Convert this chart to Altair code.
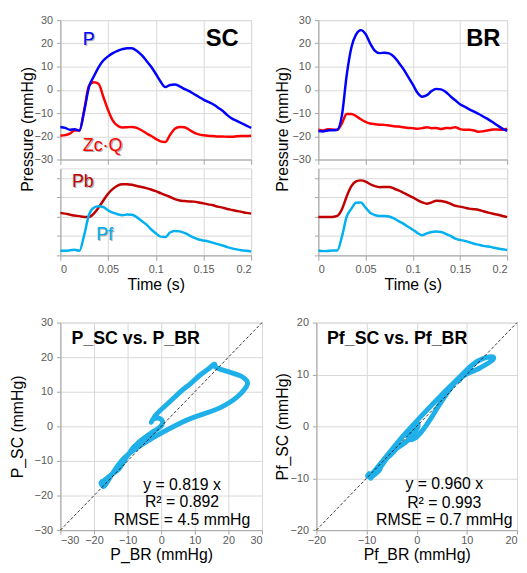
import altair as alt
import pandas as pd

FONT = "Liberation Sans"

# time base (s)
T = [round(0.005 * i, 3) for i in range(41)]

# Upper panels (mmHg)
SC_P = [-16.0, -16.4, -17.2, -17.0, -17.5, -9.0, 1.2, 5.7, 9.7, 12.6, 14.4, 15.8, 16.8, 17.5, 17.9,
        17.9, 16.8, 15.0, 12.6, 10.0, 6.9, 3.6, 1.2, 2.1, 2.3, 1.5, 0.4, -0.6, -1.8, -3.0, -4.2,
        -5.2, -6.2, -7.6, -9.0, -10.9, -12.4, -13.4, -14.4, -15.4, -16.4]
SC_ZQ = [-19.8, -19.5, -18.9, -17.5, -17.5, -8.7, 1.8, 3.3, 2.6, -3.0, -8.7, -13.3, -15.5, -16.2,
         -16.1, -16.0, -16.4, -17.4, -18.7, -19.8, -21.1, -22.2, -22.5, -19.4, -16.8, -16.0, -16.1,
         -17.2, -18.4, -19.2, -19.6, -19.8, -19.9, -20.1, -20.1, -20.2, -20.2, -20.0, -19.9, -19.9, -19.8]
BR_P = [-17.7, -17.9, -17.5, -17.4, -17.2, -10.9, 6.2, 18.2, 23.9, 25.7, 24.0, 19.9, 16.8, 15.8, 16.0,
        15.7, 14.3, 11.8, 9.0, 5.7, 2.3, -1.3, -3.0, -2.3, -0.5, 0.4, 0.2, -0.9, -2.8, -4.5, -6.2,
        -7.3, -8.4, -9.4, -10.4, -11.6, -12.7, -14.0, -15.4, -16.7, -17.7]
BR_ZQ = [-17.2, -17.5, -17.0, -17.1, -17.3, -14.4, -10.4, -10.4, -11.3, -12.7, -13.8, -14.5, -14.8,
         -15.0, -15.1, -15.4, -15.7, -15.8, -16.1, -16.4, -16.5, -16.8, -16.5, -16.1, -16.5, -16.4,
         -16.9, -16.4, -16.5, -16.1, -16.9, -17.2, -17.2, -17.5, -18.1, -17.8, -17.4, -17.1, -17.1, -17.2, -16.7]

# Lower panels (mmHg)
SC_PB = [10.0, 9.6, 9.1, 8.6, 8.3, 7.9, 7.9, 9.6, 12.7, 16.4, 19.9, 22.4, 24.1, 24.8, 24.8, 24.5, 23.9,
         23.4, 22.8, 22.1, 21.2, 20.2, 19.2, 18.2, 17.1, 16.4, 16.1, 15.9, 15.8, 15.4, 14.9, 14.4, 13.9,
         13.2, 12.7, 12.0, 11.5, 11.0, 10.5, 10.0, 9.6]
SC_PF = [-9.6, -9.6, -9.4, -9.1, -9.6, -1.4, 9.0, 12.6, 13.4, 13.0, 11.3, 10.1, 9.3, 8.8, 9.1, 9.0, 7.8,
         5.9, 4.0, 1.5, -0.6, -2.3, -2.5, -0.2, 0.6, 0.4, -0.4, -1.6, -2.8, -3.8, -4.3, -4.8, -5.5, -6.2,
         -6.9, -7.7, -8.4, -8.9, -9.3, -9.6, -10.0]
BR_PB = [7.8, 7.8, 7.8, 7.9, 8.4, 11.9, 18.5, 23.8, 26.3, 26.8, 26.2, 24.8, 23.8, 23.3, 23.4, 23.4, 22.6,
         21.6, 20.4, 19.2, 18.0, 16.6, 15.4, 14.7, 15.4, 16.3, 16.1, 15.6, 14.7, 13.7, 13.2, 12.7, 12.2,
         11.9, 11.5, 10.8, 10.1, 9.5, 9.0, 8.4, 7.8]
BR_PF = [-9.5, -9.8, -9.7, -9.5, -9.5, -2.3, 8.0, 12.2, 15.2, 15.3, 12.7, 10.0, 8.8, 8.4, 8.4, 8.1, 7.1,
         5.7, 4.4, 2.8, 1.3, -0.4, -1.6, -0.6, 0.1, 0.3, 0.1, -0.9, -1.9, -3.3, -4.0, -4.5, -5.2, -6.0,
         -6.5, -7.1, -7.4, -7.9, -8.4, -8.8, -9.2]

TIME_TICKS = [0, 0.05, 0.1, 0.15, 0.2]
P_TICKS = [-30, -20, -10, 0, 10, 20, 30]
LOW_DOMAIN = [-12, 33]
LOW_TICKS = [-12, -2, 8, 18, 28]
PF_TICKS = [-20, -10, 0, 10, 20]

BLUE = "#0000ff"
RED = "#ff0000"
DARKRED = "#c00000"
LIGHTBLUE = "#00b0f0"
SCAT = "#1fb0ea"
GRID = "#d9d9d9"
AXC = "#a6a6a6"
LAB = "#595959"


def ax(**kw):
    base = dict(labelFont=FONT, labelFontSize=11, labelColor=LAB, titleFont=FONT, titleFontSize=16,
                titleColor="black", titleFontWeight="normal", grid=True, gridColor=GRID, gridWidth=1,
                domainColor=AXC, tickColor=AXC, tickSize=4, labelPadding=4, labelOverlap=False)
    base.update(kw)
    return alt.Axis(**base)


def series_line(values, color, xenc, yenc):
    df = pd.DataFrame({"t": T, "v": values})
    return alt.Chart(df).mark_line(strokeWidth=2.5, color=color, interpolate="monotone").encode(x=xenc, y=yenc)


def labels_layer(items, xenc, yenc):
    layers = []
    for (tx, vx, txt, col, size, weight, shadow) in items:
        d = pd.DataFrame({"t": [tx], "v": [vx], "txt": [txt]})
        if shadow:
            layers.append(alt.Chart(d).mark_text(font=FONT, fontSize=size, fontWeight=weight, color="#9a9a9a",
                                                 dx=1.2, dy=1.2, opacity=0.8).encode(x=xenc, y=yenc, text="txt:N"))
        layers.append(alt.Chart(d).mark_text(font=FONT, fontSize=size, fontWeight=weight, color=col).encode(
            x=xenc, y=yenc, text="txt:N"))
    return layers


def top_block(p, zq, pb, pf, tag, with_names, width, title_pad):
    xs = alt.Scale(domain=[0, 0.2], nice=False)
    ys_up = alt.Scale(domain=[-30, 30], nice=False)
    ys_lo = alt.Scale(domain=LOW_DOMAIN, nice=False)

    xu = alt.X("t:Q", scale=xs, axis=ax(values=TIME_TICKS, labels=False, title=None, tickSize=5))
    yu = alt.Y("v:Q", scale=ys_up, axis=ax(values=P_TICKS, title="Pressure (mmHg)", titleY=110,
                                            titlePadding=title_pad))
    up_items = [(0.1696 if tag == "SC" else 0.1748, 21.8, tag, "black", 24, "bold", False)]
    if with_names:
        up_items += [(0.0297, 21.4, "P", BLUE, 18, "normal", True),
                     (0.0442, -24.2, "Zc·Q", RED, 18, "normal", True)]
    upper = alt.layer(series_line(zq, RED, xu, yu), series_line(p, BLUE, xu, yu),
                      *labels_layer(up_items, xu, yu)).properties(width=width, height=141)

    xl = alt.X("t:Q", scale=xs, axis=ax(values=TIME_TICKS, title="Time (s)", format="~g", tickSize=5,
                                        labelPadding=3, titlePadding=3))
    yl = alt.Y("v:Q", scale=ys_lo, axis=ax(values=LOW_TICKS, labels=False, title=None))
    lo_items = []
    if with_names:
        lo_items = [(0.0235, 25.8, "Pb", DARKRED, 18, "normal", True),
                    (0.0463, -1.3, "Pf", LIGHTBLUE, 18, "normal", True)]
    lower = alt.layer(series_line(pb, DARKRED, xl, yl), series_line(pf, LIGHTBLUE, xl, yl),
                      *labels_layer(lo_items, xl, yl)).properties(width=width, height=88)
    return alt.vconcat(upper, lower, spacing=9, bounds="flush")


def scatter(xv, yv, dom, ticks, xt, yt, title, stats, pos, width, title_pad, last_right=False):
    xs = alt.Scale(domain=dom, nice=False)
    ys = alt.Scale(domain=dom, nice=False)
    xkw = dict(values=ticks, title=xt, labelPadding=1, titlePadding=1)
    if last_right:
        xkw["labelAlign"] = {"condition": {"test": "datum.value == %d" % dom[1], "value": "right"},
                             "value": "center"}
    xe = alt.X("x:Q", scale=xs, axis=ax(**xkw))
    ye = alt.Y("y:Q", scale=ys, axis=ax(values=ticks, title=yt, titlePadding=title_pad))
    df = pd.DataFrame({"x": xv, "y": yv, "t": T})
    loop = alt.Chart(df).mark_line(color=SCAT, strokeWidth=5, strokeCap="round", strokeJoin="round",
                                   interpolate="catmull-rom").encode(x=xe, y=ye, order="t:Q")
    diag = alt.Chart(pd.DataFrame({"x": dom, "y": dom})).mark_line(
        color="black", strokeWidth=0.8, strokeDash=[3, 2]).encode(x=xe, y=ye)
    (tx, ty), (sx, sy) = pos
    items = [(tx, ty, title, "black", 18, "bold")]
    for s, yy in zip(stats, sy):
        items.append((sx, yy, s, "black", 16, "normal"))
    txt = []
    for (a, b, s, c, size, w) in items:
        d = pd.DataFrame({"x": [a], "y": [b], "s": [s]})
        txt.append(alt.Chart(d).mark_text(font=FONT, fontSize=size, fontWeight=w, color=c).encode(
            x=xe, y=ye, text="s:N"))
    return alt.layer(loop, diag, *txt).properties(width=width, height=210)


top_row = alt.hconcat(top_block(SC_P, SC_ZQ, SC_PB, SC_PF, "SC", True, 193, -1),
                      top_block(BR_P, BR_ZQ, BR_PB, BR_PF, "BR", False, 191, 2), spacing=16)

sc1 = scatter(BR_P, SC_P, [-30, 30], P_TICKS, "P_BR (mmHg)", "P_SC (mmHg)", "P_SC vs. P_BR",
              ["y = 0.819 x", "R² = 0.892", "RMSE = 4.5 mmHg"],
              ((-7.6, 25.1), (6.2, [-16.9, -22.0, -27.1])), 204, 9)
sc2 = scatter(BR_PF, SC_PF, [-20, 20], PF_TICKS, "Pf_BR (mmHg)", "Pf_SC (mmHg)", "Pf_SC vs. Pf_BR",
              ["y = 0.960 x", "R² = 0.993", "RMSE = 0.7 mmHg"],
              ((-3.9, 16.8), (5.5, [-11.2, -14.7, -18.1])), 203, 0, last_right=True)
bottom_row = alt.hconcat(sc1, sc2, spacing=8)

chart = alt.vconcat(top_row, bottom_row, spacing=22).configure_view(stroke=None).configure(background="white")

try:
    chart = chart.properties(padding={"left": 0, "top": 2, "right": -1, "bottom": -1})
    chart.save("out.html", embed_options={"renderer": "svg", "actions": False})
except Exception:
    chart = chart.properties(padding={"left": 0, "top": 2, "right": 0, "bottom": 0})
    chart.save("out.html", embed_options={"renderer": "svg", "actions": False})
